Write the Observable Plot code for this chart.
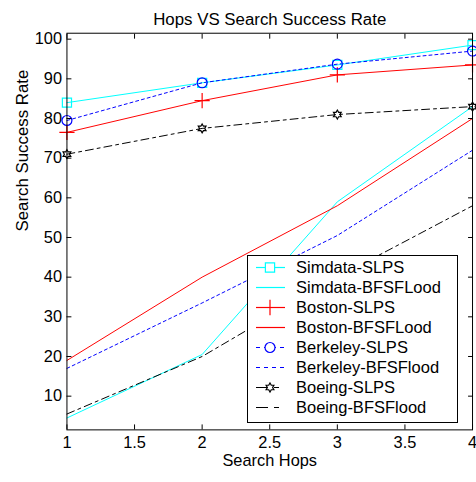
<!DOCTYPE html>
<html><head><meta charset="utf-8">
<script src="https://cdn.jsdelivr.net/npm/d3@7"></script>
<script src="https://cdn.jsdelivr.net/npm/@observablehq/plot@0.6"></script>
<style>
html,body{margin:0;padding:0;background:#fff;overflow:hidden;}
#wrap{position:relative;width:476px;height:482px;overflow:hidden;font-family:"Liberation Sans",Arial,sans-serif;}
#legend{position:absolute;left:247px;top:255px;width:211px;height:168px;box-sizing:border-box;border:1px solid #000;background:#fff;}
.row{position:absolute;left:0;height:20px;width:100%;}
.row svg{position:absolute;left:7px;top:0;}
.row span{position:absolute;left:48px;top:0;line-height:20px;font-size:16.5px;color:#000;white-space:nowrap;}
</style></head><body><div id="wrap"></div>
<script>
const chartTitle = "Hops VS Search Success Rate";
const xLabel = "Search Hops";
const yLabel = "Search Success Rate";
const hops = [1, 2, 3, 4];
const xTicks = [1, 1.5, 2, 2.5, 3, 3.5, 4];
const xTickLabels = ["1", "1.5", "2", "2.5", "3", "3.5", "4"];
const yTicks = [10, 20, 30, 40, 50, 60, 70, 80, 90, 100];
const seriesNames = ["Simdata-SLPS", "Simdata-BFSFLood", "Boston-SLPS", "Boston-BFSFLood",
  "Berkeley-SLPS", "Berkeley-BFSFlood", "Boeing-SLPS", "Boeing-BFSFlood"];
const simdataSLPS = [84, 89, 93.5, 98.5];
const simdataBFS = [4.5, 20.5, 59, 83];
const bostonSLPS = [76.5, 84.5, 91, 93.5];
const bostonBFS = [19, 40, 58, 80];
const berkeleySLPS = [79.5, 89, 93.7, 97];
const berkeleyBFS = [17, 33.5, 50.5, 72];
const boeingSLPS = [71, 77.5, 81, 83];
const boeingBFS = [5.5, 20, 40, 58];
const seriesValues = [simdataSLPS, simdataBFS, bostonSLPS, bostonBFS, berkeleySLPS, berkeleyBFS, boeingSLPS, boeingBFS];

// hexagram symbol
const hexagram = {
  draw(context, size) {
    const R = Math.sqrt(size / Math.PI);
    const r = R / Math.sqrt(3);
    for (let i = 0; i < 12; i++) {
      const a = -Math.PI / 2 + i * Math.PI / 6;
      const rr = i % 2 === 0 ? R : r;
      const px = rr * Math.cos(a), py = rr * Math.sin(a);
      if (i === 0) context.moveTo(px, py); else context.lineTo(px, py);
    }
    context.closePath();
  }
};

const styles = [
  {color: "#00ffff", dash: null, legendDash: null, symbol: "square", r: 5.2},
  {color: "#00ffff", dash: null, legendDash: null, symbol: null},
  {color: "#ff0000", dash: null, legendDash: null, symbol: "plus", r: 5},
  {color: "#ff0000", dash: null, legendDash: null, symbol: null},
  {color: "#0000ff", dash: "3,3", legendDash: "4,4", symbol: "circle", r: 5},
  {color: "#0000ff", dash: "3,3", legendDash: "4,4", symbol: null},
  {color: "#000000", dash: "8,4,3,4", legendDash: "12,6,5,20", symbol: hexagram, r: 4.5},
  {color: "#000000", dash: "8,4,3,4", legendDash: "12,6,5,20", symbol: null}
];

const marks = [];
seriesValues.forEach((vals, k) => {
  const s = styles[k];
  const data = hops.map((h, i) => ({x: h, y: vals[i]}));
  marks.push(Plot.line(data, {x: "x", y: "y", stroke: s.color, strokeWidth: 1, strokeDasharray: s.dash}));
});
seriesValues.forEach((vals, k) => {
  const s = styles[k];
  if (!s.symbol) return;
  const data = hops.map((h, i) => ({x: h, y: vals[i]}));
  marks.push(Plot.dot(data, {x: "x", y: "y", symbol: s.symbol, r: s.r, stroke: s.color, fill: "none", strokeWidth: 1.2}));
});

const chart = Plot.plot({
  width: 480, height: 482,
  marginLeft: 67, marginRight: 4, marginTop: 33, marginBottom: 49,
  style: {fontSize: "16.5px", fontFamily: "'Liberation Sans', Arial, sans-serif", background: "#fff", color: "#000", overflow: "visible"},
  x: {domain: [1, 4]},
  y: {domain: [1.5, 101.5]},
  marks: [
    ...marks,
    Plot.frame({stroke: "#000", strokeWidth: 1}),
    Plot.axisX({anchor: "bottom", ticks: xTicks, tickSize: -5, tickPadding: 12, tickFormat: (d, i) => xTickLabels[i], label: null}),
    Plot.axisX({anchor: "top", ticks: xTicks, tickSize: -5, tickFormat: () => "", label: null}),
    Plot.axisY({anchor: "left", ticks: yTicks, tickSize: -5, tickPadding: 10, label: null}),
    Plot.axisY({anchor: "right", ticks: yTicks, tickSize: -5, tickFormat: () => "", label: null}),
    Plot.text([chartTitle], {text: d => d, frameAnchor: "top", dy: -20, fontSize: 17}),
    Plot.text([xLabel], {text: d => d, frameAnchor: "bottom", dy: 36}),
    Plot.text([yLabel], {text: d => d, frameAnchor: "left", rotate: -90, dx: -45, fontSize: 17})
  ]
});
const wrap = document.getElementById("wrap");
wrap.appendChild(chart);

// legend
const legend = document.createElement("div");
legend.id = "legend";
seriesNames.forEach((name, k) => {
  const s = styles[k];
  const row = document.createElement("div");
  row.className = "row";
  row.style.top = (1 + k * 20) + "px";
  const svg = d3.create("svg").attr("width", 30).attr("height", 20);
  svg.append("line").attr("x1", 1).attr("x2", 30).attr("y1", 10.5).attr("y2", 10.5)
    .attr("stroke", s.color).attr("stroke-width", 1.2).attr("stroke-dasharray", s.legendDash);
  if (s.symbol) {
    const sym = typeof s.symbol === "string"
      ? {square: d3.symbolSquare, plus: d3.symbolPlus, circle: d3.symbolCircle}[s.symbol]
      : s.symbol;
    svg.append("path").attr("transform", "translate(15,10.5)")
      .attr("d", d3.symbol(sym, Math.PI * s.r * s.r)())
      .attr("fill", "#fff").attr("stroke", s.color).attr("stroke-width", 1.2);
  }
  row.appendChild(svg.node());
  const span = document.createElement("span");
  span.textContent = name;
  row.appendChild(span);
  legend.appendChild(row);
});
wrap.appendChild(legend);
</script></body></html>
